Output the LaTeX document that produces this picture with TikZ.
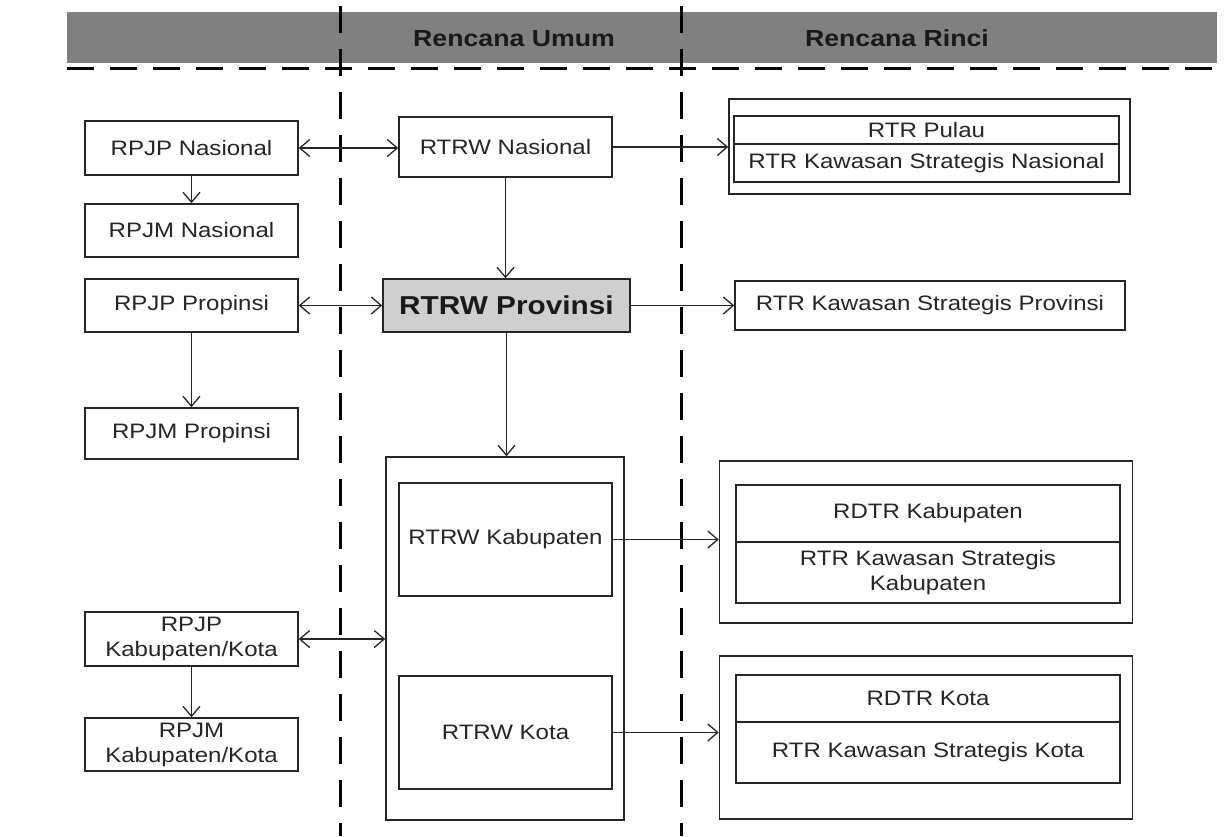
\documentclass[tikz,border=0pt]{standalone}
\usepackage{fontspec}
\setmainfont{Liberation Sans}[FakeStretch=1.15]
\usetikzlibrary{arrows.meta}
\definecolor{ink}{HTML}{262626}
\definecolor{bandgray}{HTML}{808080}
\definecolor{provgray}{HTML}{CFCFCF}
\tikzset{
  box/.style={draw=ink, line width=1.5pt, fill=white, inner sep=0pt, align=center,
    text=ink, font=\fontsize{20.9}{25}\selectfont},
  frame/.style={draw=ink, line width=1.5pt, inner sep=0pt},
  headtxt/.style={inner sep=0pt, anchor=base, text=black!90, font=\bfseries\fontsize{23.2}{28}\selectfont},
  divider/.style={draw=black, line width=3pt, dash pattern=on 27pt off 16pt},
  conn/.style={draw=ink, line width=1.3pt},
  tip/.style={-{Straight Barb[length=10pt,width=17pt,line width=1.3pt]}},
  tips/.style={{Straight Barb[length=10pt,width=17pt,line width=1.3pt]}-{Straight Barb[length=10pt,width=17pt,line width=1.3pt]}}
}
\begin{document}
\begin{tikzpicture}[x=1pt,y=-1pt]
\useasboundingbox (0,0) rectangle (1232,836);
\fill[white] (0,0) rectangle (1232,836);
% header band
\node[fill=bandgray, minimum width=1150, minimum height=51, inner sep=0pt] (band) at (642,37.5) {};
\node[headtxt] (humum) at (514,46) {Rencana Umum};
\node[headtxt] (hrinci) at (897,46) {Rencana Rinci};
% dashed dividers
\coordinate (hl) at (67,68);
\coordinate (hr) at (1228,68);
\coordinate (v1t) at (340,6);
\coordinate (v1b) at (340,836);
\coordinate (v2t) at (681,6);
\coordinate (v2b) at (681,836);
\draw[divider] (hl) -- (hr);
\draw[divider] (v1t) -- (v1b);
\draw[divider] (v2t) -- (v2b);
% left column
\node[box, minimum width=213, minimum height=54] (rpjpN) at (191.5,148) {RPJP Nasional};
\node[box, minimum width=213, minimum height=53] (rpjmN) at (191.5,230.5) {RPJM Nasional};
\node[box, minimum width=213, minimum height=53] (rpjpP) at (191.5,305.5) {RPJP Propinsi};
\node[box, minimum width=213, minimum height=51] (rpjmP) at (191.5,433.5) {RPJM Propinsi};
\node[box, minimum width=213, minimum height=54] (rpjpK) at (191.5,639) {RPJP\\Kabupaten/Kota};
\node[box, minimum width=213, minimum height=53] (rpjmK) at (191.5,744.5) {RPJM\\Kabupaten/Kota};
% middle column
\node[box, minimum width=213, minimum height=60] (rtrwN) at (505.5,147) {RTRW Nasional};
\node[box, fill=provgray, minimum width=247, minimum height=53,
      font=\bfseries\fontsize{25.9}{30}\selectfont, text=black!90] (rtrwP) at (506.5,305.5) {RTRW Provinsi};
\node[frame, minimum width=238, minimum height=363] (bigbox) at (505,638.5) {};
\node[box, minimum width=213, minimum height=113] (rtrwK) at (505.5,539.5) {RTRW Kabupaten};
\node[box, minimum width=213, minimum height=113] (rtrwKota) at (505.5,732.5) {RTRW Kota};
% right column
\node[frame, minimum width=401, minimum height=95] (outer1) at (929.5,146.5) {};
\node[box, minimum width=385, minimum height=28] (pulau) at (926.5,130) {RTR Pulau};
\node[box, minimum width=385, minimum height=38] (ksn) at (926.5,163) {RTR Kawasan Strategis Nasional};
\node[box, minimum width=390, minimum height=49] (ksp) at (930,305.5) {RTR Kawasan Strategis Provinsi};
\node[frame, minimum width=413, minimum height=162] (outer2) at (926,542) {};
\node[box, minimum width=384, minimum height=57] (rdtrK) at (928,513.5) {RDTR Kabupaten};
\node[box, minimum width=384, minimum height=61] (kskab) at (928,572.5) {RTR Kawasan Strategis\\Kabupaten};
\node[frame, minimum width=413, minimum height=163] (outer3) at (926,737.5) {};
\node[box, minimum width=384, minimum height=47] (rdtrKota) at (928,698.5) {RDTR Kota};
\node[box, minimum width=384, minimum height=61] (kskota) at (928,752.5) {RTR Kawasan Strategis Kota};
% connectors
\draw[conn, tips] (rpjpN.east) -- (rpjpN.east -| rtrwN.west);
\draw[conn, tip] (rpjpN.south) -- (rpjmN.north);
\draw[conn, tip] (rtrwN.east) -- (rtrwN.east -| outer1.west);
\draw[conn, tip] (rtrwN.south) -- (rtrwN.south |- rtrwP.north);
\draw[conn, tips] (rpjpP.east) -- (rpjpP.east -| rtrwP.west);
\draw[conn, tip] (rtrwP.east) -- (rtrwP.east -| ksp.west);
\draw[conn, tip] (rpjpP.south) -- (rpjmP.north);
\draw[conn, tip] (rtrwP.south) -- (rtrwP.south |- bigbox.north);
\draw[conn, tips] (rpjpK.east) -- (rpjpK.east -| bigbox.west);
\draw[conn, tip] (rpjpK.south) -- (rpjmK.north);
\draw[conn, tip] (rtrwK.east) -- (rtrwK.east -| outer2.west);
\draw[conn, tip] (rtrwKota.east) -- (rtrwKota.east -| outer3.west);
\end{tikzpicture}
\end{document}
